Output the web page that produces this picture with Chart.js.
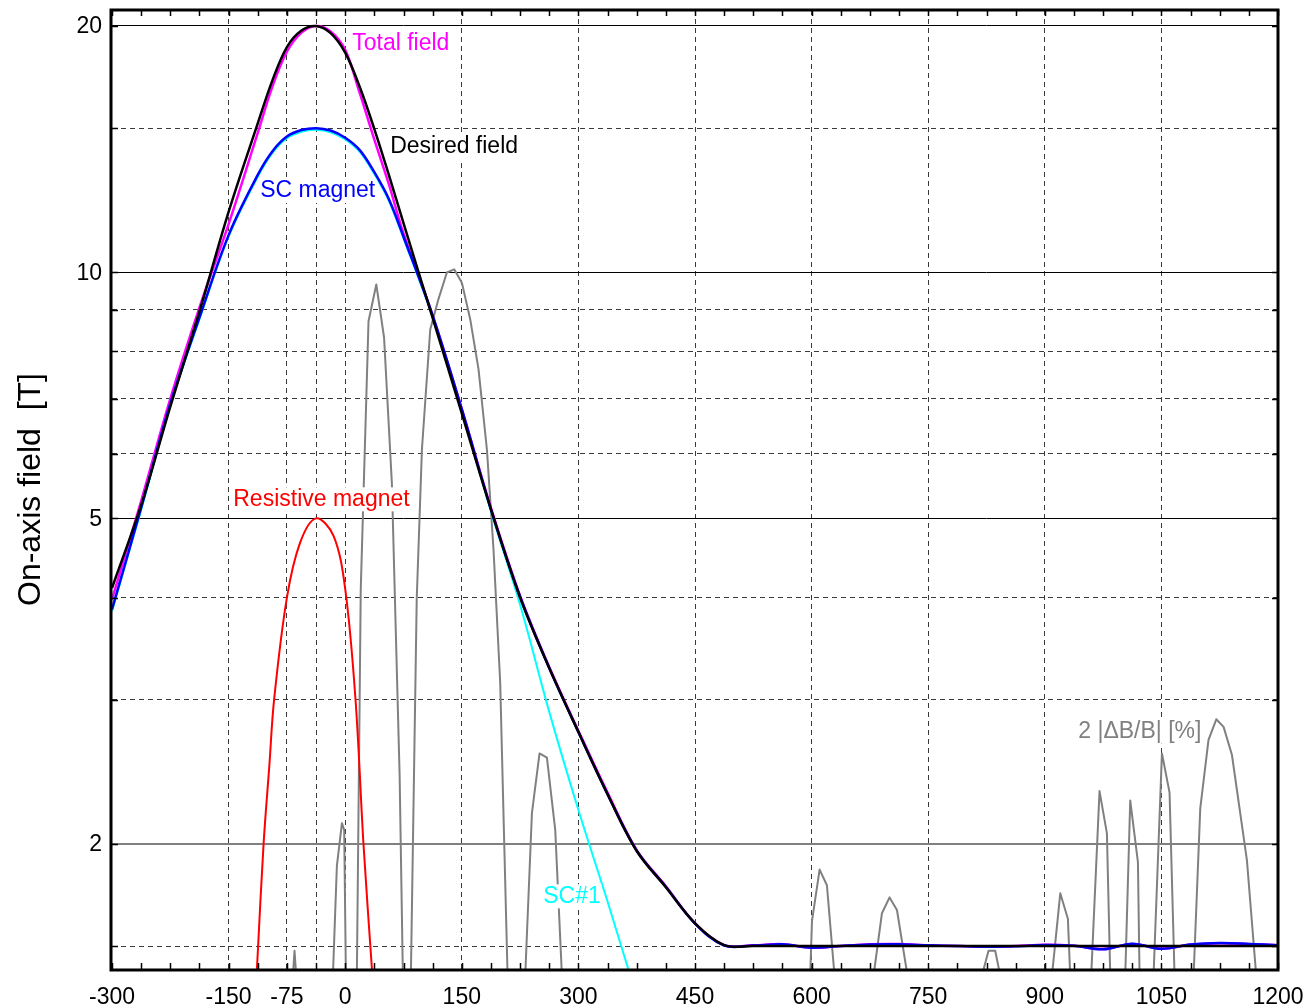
<!DOCTYPE html>
<html>
<head>
<meta charset="utf-8">
<script src="https://cdn.jsdelivr.net/npm/chart.js@4.4.1/dist/chart.umd.min.js"></script>
<style>
  html, body { margin: 0; padding: 0; background: #fff; }
  canvas { display: block; }
</style>
</head>
<body>
<canvas id="field-chart" width="1305" height="1007"></canvas>
<script>
// axial position [mm] where the field curves were read
const zPos = [-300, -262.5, -225, -187.5, -150, -112.5, -93.75, -75, -56.25, -37.5, -18.75, 0, 18.75, 37.5,
  56.25, 75, 112.5, 150, 187.5, 225, 262.5, 300, 337.5, 375, 412.5, 450, 487.5,
  525, 562.5, 600, 637.5, 675, 712.5, 750, 787.5, 825, 862.5, 900, 937.5, 975, 1012.5,
  1050, 1087.5, 1125, 1162.5, 1200];

// on-axis field [T]
const desiredField = [4.11, 5.19, 6.85, 8.95, 11.85, 15.2, 17.15, 18.85, 19.75, 20.0, 19.6, 18.55, 16.84, 14.96,
  13.14, 11.48, 8.79, 6.72, 5.13, 4.0, 3.28, 2.74, 2.3, 1.96, 1.77, 1.599, 1.504,
  1.5, 1.5, 1.5, 1.5, 1.5, 1.5, 1.5, 1.5, 1.5, 1.5, 1.5, 1.5, 1.5, 1.5,
  1.5, 1.5, 1.5, 1.5, 1.5];
const totalField = [3.98, 5.25, 7.0, 9.05, 11.45, 14.8, 16.85, 18.6, 19.63, 20.0, 19.7, 18.7, 16.55, 14.52,
  12.8, 11.15, 8.85, 6.8, 5.15, 4.02, 3.29, 2.75, 2.31, 1.965, 1.775, 1.6, 1.504,
  1.503, 1.508, 1.493, 1.5, 1.507, 1.508, 1.503, 1.5, 1.497, 1.5, 1.505, 1.501, 1.487, 1.509,
  1.489, 1.506, 1.512, 1.509, 1.503];
const scMagnet = [3.87, 5.15, 6.9, 8.8, 11.1, 13.15, 14.05, 14.65, 14.92, 15.0, 14.9, 14.6, 14.1, 13.25,
  12.28, 11.05, 8.85, 6.8, 5.13, 4.01, 3.28, 2.74, 2.3, 1.962, 1.772, 1.598, 1.502,
  1.502, 1.507, 1.493, 1.5, 1.506, 1.507, 1.503, 1.5, 1.497, 1.499, 1.504, 1.501, 1.486, 1.51,
  1.488, 1.506, 1.513, 1.509, 1.503];
const sc1 = [3.85, 5.12, 6.87, 8.76, 11.05, 13.08, 13.98, 14.58, 14.85, 14.93, 14.83, 14.53, 14.03, 13.18,
  12.22, 11.0, 8.8, 6.77, 5.1, 3.92, 2.9, 2.2, 1.7, 1.3, null, null, null,
  null, null, null, null, null, null, null, null, null, null, null, null, null, null,
  null, null, null, null, null];

// resistive insert
const resZ = [-120, -112.5, -105, -97.5, -91.5, -75, -58, -37.5, -15, 0, 13.3, 23.5, 34.3, 42];
const resistive = [1.08, 1.47, 2.0, 2.5, 3.0, 4.0, 4.67, 5.0, 4.76, 4.1, 3.0, 2.0, 1.41, 1.1];

// 2|dB/B| [%], null marks a break between spikes
const errZ = [-67.3, -65.2, -63.0, -40,
  -15.8, -10.7, -4.2, -1.3, 0.9, 8,
  15.0, 20, 30, 40, 50, 60, 70, 74.2, 80,
  84.5, 92, 98.7, 109.4, 120, 130.8, 140.2, 150.1, 160.8, 171.5, 182.3, 190.8, 199.4, 204.6, 208.9, 220,
  231.6, 240.2, 250, 259.5, 270.2, 278.8, 450,
  598.2, 600.5, 610.3, 619.7, 629.5, 650,
  679.7, 690.5, 700.3, 709.8, 723.4, 780,
  819.1, 827.6, 836.2, 842.7, 880,
  909.2, 919.9, 929.7, 932.7, 945,
  959.7, 970.4, 979.9, 984.2, 995,
  1003.5, 1009.9, 1019.8, 1021.9, 1030,
  1039.9, 1050.7, 1060.5, 1066.9, 1080,
  1091.4, 1100, 1110.6, 1120.6, 1130, 1140.7, 1160, 1172];
const errVal = [1.38, 1.48, 1.38, null,
  1.38, 1.88, 2.12, 2.08, 1.38, null,
  1.38, 4.09, 8.71, 9.66, 8.32, 5.53, 2.43, 1.38, null,
  1.38, 3.98, 6.07, 8.51, 9.27, 9.99, 10.08, 9.71, 8.76, 7.61, 6.07, 4.58, 3.15, 2.0, 1.38, null,
  1.38, 2.18, 2.58, 2.55, 2.08, 1.38, null,
  1.38, 1.61, 1.86, 1.78, 1.38, null,
  1.38, 1.645, 1.72, 1.66, 1.38, null,
  1.38, 1.48, 1.48, 1.38, null,
  1.38, 1.74, 1.62, 1.38, null,
  1.38, 2.32, 2.06, 1.38, null,
  1.38, 2.26, 1.90, 1.38, null,
  1.38, 2.58, 2.31, 1.38, null,
  1.38, 2.21, 2.68, 2.84, 2.78, 2.57, 1.91, 1.38];

const xGridVals = [-150, -75, -37.5, 0, 150, 300, 450, 600, 750, 900, 1050];
const xLabelVals = [-300, -150, -75, 0, 150, 300, 450, 600, 750, 900, 1050, 1200];
const yGridVals = [1.5, 2, 3, 4, 5, 6, 7, 8, 9, 10, 15, 20];
const yLabelVals = [2, 5, 10, 20];
const ySolid = [5, 10, 20];

const notes = [
  { text: 'Total field', x: 9, y: 19.06, color: '#ff00ff' },
  { text: 'Desired field', x: 57.9, y: 14.26, color: '#000000' },
  { text: 'SC magnet', x: -109.4, y: 12.6, color: '#0000ff' },
  { text: 'Resistive magnet', x: -144, y: 5.29, color: '#ff0000' },
  { text: 'SC#1', x: 254.7, y: 1.73, color: '#00ffff' },
  { text: '2 |\u0394B/B| [%]', x: 943, y: 2.75, color: '#808080' }
];

const FONT = '"Liberation Sans", Arial, Helvetica, sans-serif';

function pts(xs, ys) {
  return xs.map((x, i) => ({ x: x, y: ys[i] }));
}

const framePlugin = {
  id: 'framePlugin',
  afterDatasetsDraw(chart) {
    const { ctx, chartArea: a, scales } = chart;
    const x = scales.x, y = scales.y;
    ctx.save();

    // curve labels sit on white boxes
    ctx.font = '23px ' + FONT;
    ctx.textAlign = 'left';
    ctx.textBaseline = 'middle';
    notes.forEach(n => {
      const px = x.getPixelForValue(n.x);
      const py = y.getPixelForValue(n.y);
      const w = ctx.measureText(n.text).width;
      ctx.fillStyle = '#fff';
      ctx.fillRect(px - 1, py - 11, w + 2, 24);
      ctx.fillStyle = n.color;
      ctx.fillText(n.text, px, py + 1);
    });

    // frame
    ctx.strokeStyle = '#000';
    ctx.lineWidth = 3;
    ctx.beginPath();
    ctx.moveTo(a.left - 1, a.top);
    ctx.lineTo(a.right, a.top);
    ctx.lineTo(a.right, a.bottom + 1);
    ctx.lineTo(a.left - 1, a.bottom + 1);
    ctx.closePath();
    ctx.stroke();

    // inward tick marks
    ctx.lineWidth = 1.5;
    ctx.beginPath();
    for (let v = -300; v <= 1200; v += 37.5) {
      const px = Math.round(x.getPixelForValue(v)) + 0.5;
      ctx.moveTo(px, a.bottom);
      ctx.lineTo(px, a.bottom - 6);
      ctx.moveTo(px, a.top);
      ctx.lineTo(px, a.top + 6);
    }
    yGridVals.forEach(v => {
      const py = Math.round(y.getPixelForValue(v)) + 0.5;
      ctx.moveTo(a.left, py);
      ctx.lineTo(a.left + 6, py);
      ctx.moveTo(a.right, py);
      ctx.lineTo(a.right - 6, py);
    });
    ctx.stroke();

    // tick labels
    ctx.fillStyle = '#000';
    ctx.font = '23px ' + FONT;
    ctx.textAlign = 'center';
    ctx.textBaseline = 'alphabetic';
    xLabelVals.forEach(v => {
      ctx.fillText(String(v), x.getPixelForValue(v), a.bottom + 35);
    });
    ctx.textAlign = 'right';
    ctx.textBaseline = 'middle';
    yLabelVals.forEach(v => {
      ctx.fillText(String(v), a.left - 10, y.getPixelForValue(v) + 1);
    });

    // y title
    ctx.translate(31, (a.top + a.bottom) / 2);
    ctx.rotate(-Math.PI / 2);
    ctx.textAlign = 'center';
    ctx.font = '32px ' + FONT;
    ctx.fillText('On-axis field  [T]', 0, 0);
    ctx.restore();
  }
};

const ctx = document.getElementById('field-chart').getContext('2d');
const chart = new Chart(ctx, {
  type: 'line',
  data: {
    datasets: [{
      label: 'Desired field',
      data: pts(zPos, desiredField),
      borderColor: '#000000',
      borderWidth: 2.5,
      tension: 0.35
    }, {
      label: 'SC magnet',
      data: pts(zPos, scMagnet),
      borderColor: '#0000ff',
      borderWidth: 2.5,
      tension: 0.35
    }, {
      label: 'Total field',
      data: pts(zPos, totalField),
      borderColor: '#ff00ff',
      borderWidth: 2.5,
      tension: 0.35
    }, {
      label: 'SC#1',
      data: pts(zPos, sc1),
      borderColor: '#00ffff',
      borderWidth: 2,
      tension: 0.35
    }, {
      label: 'Resistive magnet',
      data: pts(resZ, resistive),
      borderColor: '#ff0000',
      borderWidth: 2,
      tension: 0.35
    }, {
      label: '2 |dB/B| [%]',
      data: pts(errZ, errVal),
      borderColor: '#808080',
      borderWidth: 2,
      borderJoinStyle: 'round',
      tension: 0,
      spanGaps: false
    }]
  },
  options: {
    responsive: false,
    animation: false,
    devicePixelRatio: 1,
    layout: { padding: { top: 10, right: 27, left: 0, bottom: 0 } },
    elements: { point: { radius: 0, hoverRadius: 0 } },
    plugins: { legend: { display: false }, tooltip: { enabled: false } },
    scales: {
      x: {
        type: 'linear',
        min: -300,
        max: 1200,
        afterBuildTicks: s => { s.ticks = xGridVals.map(v => ({ value: v })); },
        afterFit: s => { s.height = 38; },
        ticks: { display: false },
        grid: { drawTicks: false, color: '#3a3a3a', lineWidth: 1 },
        border: { display: false, dash: [5, 4] }
      },
      y: {
        type: 'logarithmic',
        min: 1.406,
        max: 20.92,
        afterBuildTicks: s => { s.ticks = yGridVals.map(v => ({ value: v })); },
        afterFit: s => { s.width = 112; },
        ticks: { display: false },
        grid: {
          drawTicks: false,
          color: c => (c.tick && c.tick.value === 2) ? '#808080' : (c.tick && ySolid.includes(c.tick.value) ? '#000' : '#3a3a3a'),
          lineWidth: c => (c.tick && c.tick.value === 2) ? 2 : 1
        },
        border: {
          display: false,
          dash: c => (c.tick && (c.tick.value === 2 || ySolid.includes(c.tick.value))) ? [] : [5, 4]
        }
      }
    }
  },
  plugins: [framePlugin]
});
</script>
</body>
</html>
